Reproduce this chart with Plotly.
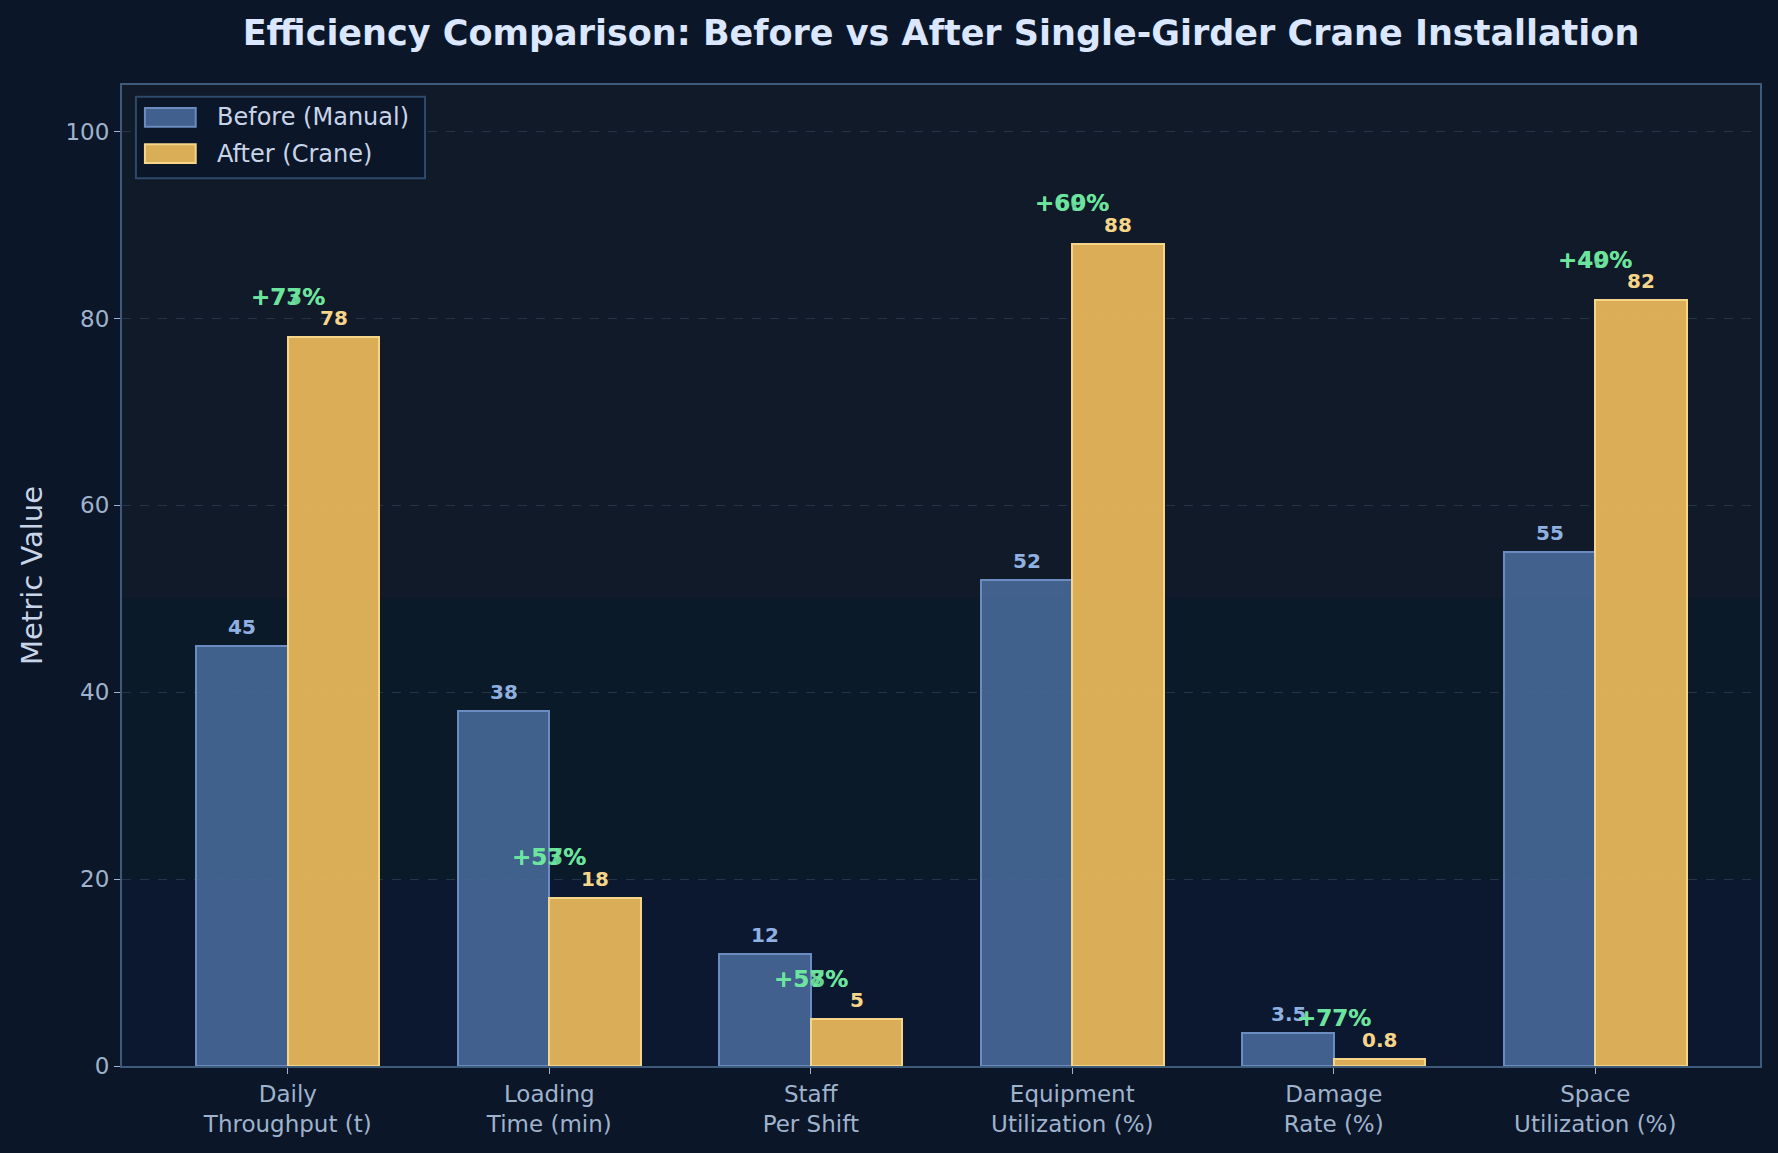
import plotly.graph_objects as go

categories = ["Daily<br>Throughput (t)", "Loading<br>Time (min)", "Staff<br>Per Shift",
              "Equipment<br>Utilization (%)", "Damage<br>Rate (%)", "Space<br>Utilization (%)"]
before = [45, 38, 12, 52, 3.5, 55]
after = [78, 18, 5, 88, 0.8, 82]
before_labels = ["45", "38", "12", "52", "3.5", "55"]
after_labels = ["78", "18", "5", "88", "0.8", "82"]
improve_a = ["+73%", "+53%", "+58%", "+69%", "+77%", "+49%"]
improve_b = ["+77%", "+57%", "+57%", "+60%", "+77%", "+40%"]
series_names = ["Before (Manual)", "After (Crane)"]

xs = list(range(len(categories)))
W = 0.35
FONT = "DejaVu Sans"
BEFORE_FILL = "rgba(70,103,150,0.92)"
BEFORE_LINE = "#6b8cc0"
AFTER_FILL = "rgba(232,183,90,0.94)"
AFTER_LINE = "#f5d58a"

fig = go.Figure()
fig.add_trace(go.Bar(
    x=[x - W / 2 for x in xs], y=before, width=W, name=series_names[0], showlegend=False,
    marker=dict(color=BEFORE_FILL, line=dict(color=BEFORE_LINE, width=2)),
))
fig.add_trace(go.Bar(
    x=[x + W / 2 for x in xs], y=after, width=W, name=series_names[1], showlegend=False,
    marker=dict(color=AFTER_FILL, line=dict(color=AFTER_LINE, width=2)),
))

for i in xs:
    fig.add_annotation(x=i - W / 2, y=before[i], text="<b>%s</b>" % before_labels[i],
                       showarrow=False, yshift=19, font=dict(family=FONT, size=20, color="#8fb0e0"))
    fig.add_annotation(x=i + W / 2, y=after[i], text="<b>%s</b>" % after_labels[i],
                       showarrow=False, yshift=19, font=dict(family=FONT, size=20, color="#f5d58a"))
    for t in (improve_b[i], improve_a[i]):
        fig.add_annotation(x=i, y=after[i] + 4, text="<b>%s</b>" % t, showarrow=False, yshift=3,
                           font=dict(family=FONT, size=23, color="#6ee7a0"), opacity=0.9)

# background bands
bands = [(50, 105, "#111a29"), (20, 50, "#0b1a28"), (0, 20, "#0c1830")]
for y0, y1, c in bands:
    fig.add_shape(type="rect", xref="paper", yref="y", x0=0, x1=1, y0=y0, y1=y1,
                  fillcolor=c, line=dict(width=0), layer="below")

# custom legend
fig.add_shape(type="rect", xref="paper", yref="paper", x0=0.0085, x1=0.185, y0=0.905, y1=0.988,
              fillcolor="#0b1629", line=dict(color="#2e4a6a", width=2))
legend_rows = [(0.967, BEFORE_FILL, BEFORE_LINE), (0.930, AFTER_FILL, AFTER_LINE)]
for (yc, fc, lc), name in zip(legend_rows, series_names):
    fig.add_shape(type="rect", xref="paper", yref="paper", x0=0.014, x1=0.045,
                  y0=yc - 0.0095, y1=yc + 0.0095, fillcolor=fc, line=dict(color=lc, width=2))
    fig.add_annotation(xref="paper", yref="paper", x=0.057, y=yc, xanchor="left", yanchor="middle",
                       text=name, showarrow=False, font=dict(family=FONT, size=24, color="#c8d4e8"))

fig.update_layout(
    width=1778, height=1153,
    paper_bgcolor="#0b1629", plot_bgcolor="#0b1629",
    margin=dict(l=122, r=18, t=85, b=87),
    bargap=0, barmode="overlay",
    title=dict(text="<b>Efficiency Comparison: Before vs After Single-Girder Crane Installation</b>",
               xref="paper", x=0.5, xanchor="center", y=0.972, yanchor="middle",
               font=dict(family=FONT, size=35, color="#dbe6ff")),
    font=dict(family=FONT, color="#9fb3cc"),
    showlegend=False,
)
fig.update_xaxes(
    range=[-0.634, 5.63], tickmode="array", tickvals=xs, ticktext=categories,
    tickfont=dict(family=FONT, size=23, color="#9fb3cc"),
    ticks="outside", ticklen=6, tickcolor="#9fb3cc",
    showgrid=False, zeroline=False,
    showline=True, linecolor="#3d5a7a", linewidth=2, mirror=True,
)
fig.update_yaxes(
    range=[0, 105], tickvals=[0, 20, 40, 60, 80, 100],
    tickfont=dict(family=FONT, size=23, color="#9fb3cc"),
    ticks="outside", ticklen=6, tickcolor="#9fb3cc",
    title=dict(text="Metric Value", font=dict(family=FONT, size=29, color="#c8d4e8"), standoff=14),
    showgrid=True, gridcolor="#253548", griddash="dash", gridwidth=1,
    zeroline=False,
    showline=True, linecolor="#3d5a7a", linewidth=2, mirror=True,
)

fig.write_html("out.html")
